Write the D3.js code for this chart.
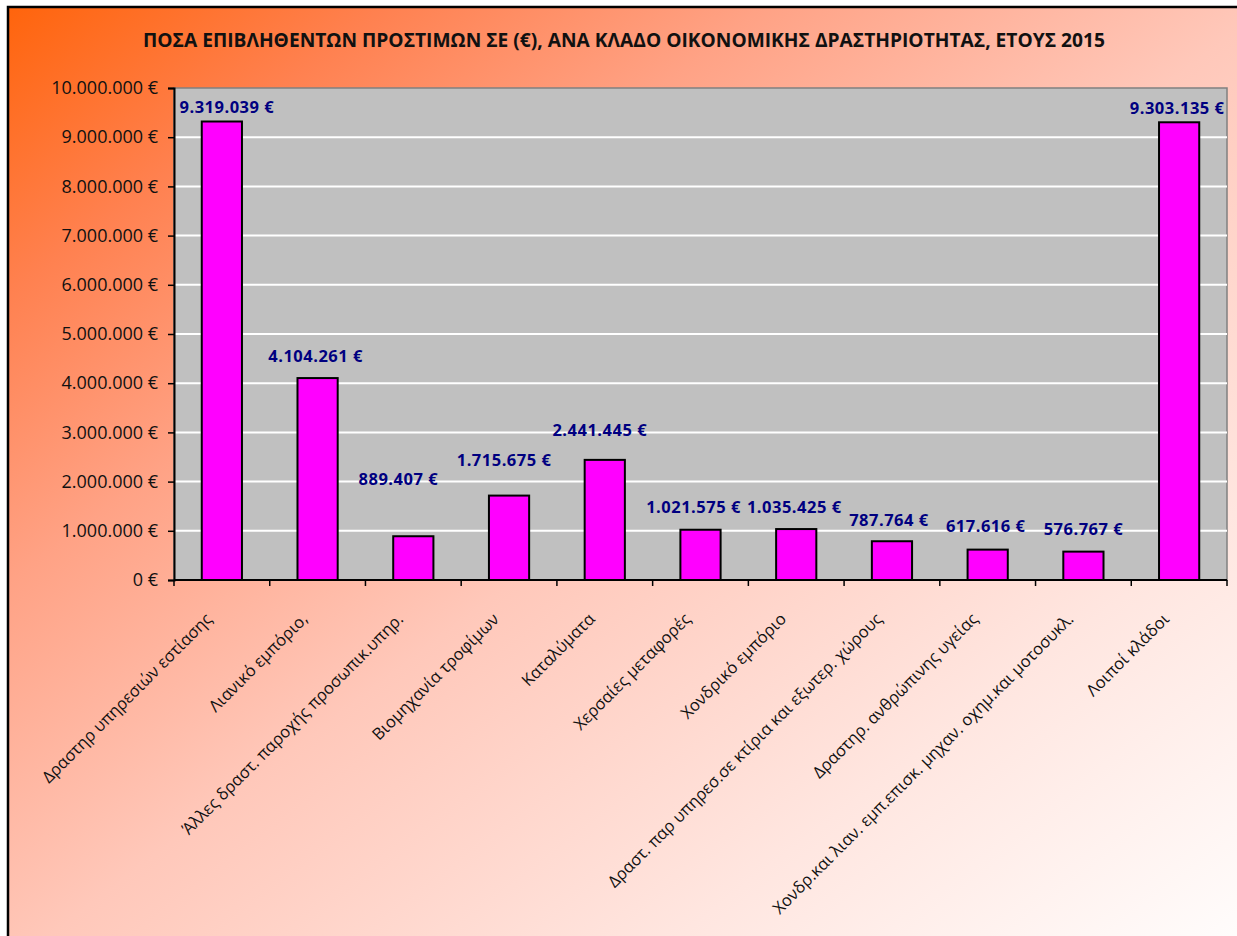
<!DOCTYPE html>
<html>
<head>
<meta charset="utf-8">
<script src="https://cdn.jsdelivr.net/npm/d3@7"></script>
<style>
  body { margin: 0; background: #fff; }
  text { font-family: "Open Sans", "Noto Sans", sans-serif; }
</style>
</head>
<body>
<div id="chart"></div>
<script>
// data
var categories = [
  'Δραστηρ υπηρεσιών εστίασης',
  'Λιανικό εμπόριο,',
  'Άλλες δραστ. παροχής προσωπικ.υπηρ.',
  'Βιομηχανία τροφίμων',
  'Καταλύματα',
  'Χερσαίες μεταφορές',
  'Χονδρικό εμπόριο',
  'Δραστ. παρ υπηρεσ.σε κτίρια και εξωτερ. χώρους',
  'Δραστηρ. ανθρώπινης υγείας',
  'Χονδρ.και λιαν. εμπ.επισκ. μηχαν. οχημ.και μοτοσυκλ.',
  'Λοιποί κλάδοι'
];
var fines = [9319039, 4104261, 889407, 1715675, 2441445, 1021575, 1035425, 787764, 617616, 576767, 9303135];
var yTicks = [0, 1000000, 2000000, 3000000, 4000000, 5000000, 6000000, 7000000, 8000000, 9000000, 10000000];
var title = 'ΠΟΣΑ ΕΠΙΒΛΗΘΕΝΤΩΝ ΠΡΟΣΤΙΜΩΝ ΣΕ (€), ΑΝΑ ΚΛΑΔΟ ΟΙΚΟΝΟΜΙΚΗΣ ΔΡΑΣΤΗΡΙΟΤΗΤΑΣ, ΕΤΟΥΣ 2015';

// manual nudges of the value labels (px), like the hand-moved labels in the original
var labelNudge = [[5, 8], [-2, 0], [-15, -35], [-5, -13], [-5, -8], [-7, -1], [-2, 0], [-3, 1], [-2, -1], [0, 0], [-2, 8]];

var width = 1237, height = 936;
var margin = { top: 88, right: 10, bottom: 356, left: 174 };
var plotW = 1227 - margin.left, plotH = 580 - margin.top;

// greek number format: 1.234.567 €
var fmt = d3.formatLocale({ decimal: ',', thousands: '.', grouping: [3], currency: ['', ' €'] }).format('$,.0f');

var svg = d3.select('#chart').append('svg')
  .attr('width', width)
  .attr('height', height);

// background gradient
var grad = svg.append('defs').append('linearGradient')
  .attr('id', 'bg')
  .attr('x1', 0).attr('y1', 0).attr('x2', 1).attr('y2', 1);
grad.selectAll('stop')
  .data([[0, '#ff640c'], [0.15, '#ff8150'], [0.3, '#ffa285'], [0.5, '#ffc8ba'], [0.75, '#ffe6e0'], [1, '#ffffff']])
  .enter().append('stop')
  .attr('offset', function(d) { return d[0]; })
  .attr('stop-color', function(d) { return d[1]; });

svg.append('rect')
  .attr('x', 8).attr('y', 7)
  .attr('width', 1260).attr('height', 960)
  .attr('fill', 'url(#bg)')
  .attr('stroke', '#000')
  .attr('stroke-width', 2.5);

svg.append('text')
  .attr('x', 624).attr('y', 47)
  .attr('text-anchor', 'middle')
  .attr('font-size', 19.2)
  .attr('font-weight', 'bold')
  .attr('fill', '#111')
  .text(title);

var g = svg.append('g').attr('transform', 'translate(' + margin.left + ',' + margin.top + ')');

var x = d3.scaleBand().domain(categories).range([0, plotW]).paddingInner(0.58).paddingOuter(0.29);
var xb = d3.scaleBand().domain(categories).range([0, plotW]);
var y = d3.scaleLinear().domain([0, 10000000]).range([plotH, 0]);

// plot area
g.append('rect')
  .attr('width', plotW).attr('height', plotH)
  .attr('fill', '#c0c0c0')
  .attr('stroke', '#808080')
  .attr('stroke-width', 1.5);

// gridlines
g.selectAll('.grid')
  .data(yTicks.slice(1, -1))
  .enter().append('line')
  .attr('x1', 0).attr('x2', plotW)
  .attr('y1', function(d) { return y(d); })
  .attr('y2', function(d) { return y(d); })
  .attr('stroke', '#fff')
  .attr('stroke-width', 2);

// bars
g.selectAll('.bar')
  .data(fines)
  .enter().append('rect')
  .attr('x', function(d, i) { return x(categories[i]); })
  .attr('y', function(d) { return y(d); })
  .attr('width', x.bandwidth())
  .attr('height', function(d) { return plotH - y(d); })
  .attr('fill', '#ff00ff')
  .attr('stroke', '#000')
  .attr('stroke-width', 2);

// value labels
g.selectAll('.val')
  .data(fines)
  .enter().append('text')
  .attr('x', function(d, i) { return x(categories[i]) + x.bandwidth() / 2 + labelNudge[i][0]; })
  .attr('y', function(d, i) { return y(d) - 22 + labelNudge[i][1]; })
  .attr('dy', '0.35em')
  .attr('text-anchor', 'middle')
  .attr('font-size', 16.5)
  .attr('font-weight', 'bold')
  .attr('letter-spacing', 0.5)
  .attr('fill', '#000080')
  .text(function(d) { return fmt(d); });

// y axis
var yAxis = d3.axisLeft(y).tickValues(yTicks).tickSize(6).tickPadding(10).tickFormat(fmt);
var ya = g.append('g').call(yAxis);
ya.selectAll('text').attr('font-size', 18).attr('fill', '#111').style('font-family', '"Open Sans", sans-serif');
ya.select('.domain').attr('stroke', '#000').attr('stroke-width', 2);
ya.selectAll('.tick line').attr('stroke', '#000').attr('stroke-width', 1.5);

// x axis: ticks sit on the category boundaries
var xa = g.append('g').attr('transform', 'translate(0,' + plotH + ')');
xa.append('line').attr('x1', 0).attr('x2', plotW).attr('stroke', '#000').attr('stroke-width', 2);
xa.selectAll('.xtick')
  .data(categories.concat(['end']))
  .enter().append('line')
  .attr('x1', function(d, i) { return i * xb.step(); })
  .attr('x2', function(d, i) { return i * xb.step(); })
  .attr('y1', 0).attr('y2', 6)
  .attr('stroke', '#000').attr('stroke-width', 1.5);

xa.selectAll('.xlab')
  .data(categories)
  .enter().append('text')
  .attr('transform', function(d) {
    return 'translate(' + (xb(d) + xb.bandwidth() / 2 - 13) + ',36) rotate(-45)';
  })
  .attr('text-anchor', 'end')
  .attr('dy', '0.35em')
  .attr('font-size', 16.5)
  .attr('fill', '#111')
  .text(function(d) { return d; });
</script>
</body>
</html>
